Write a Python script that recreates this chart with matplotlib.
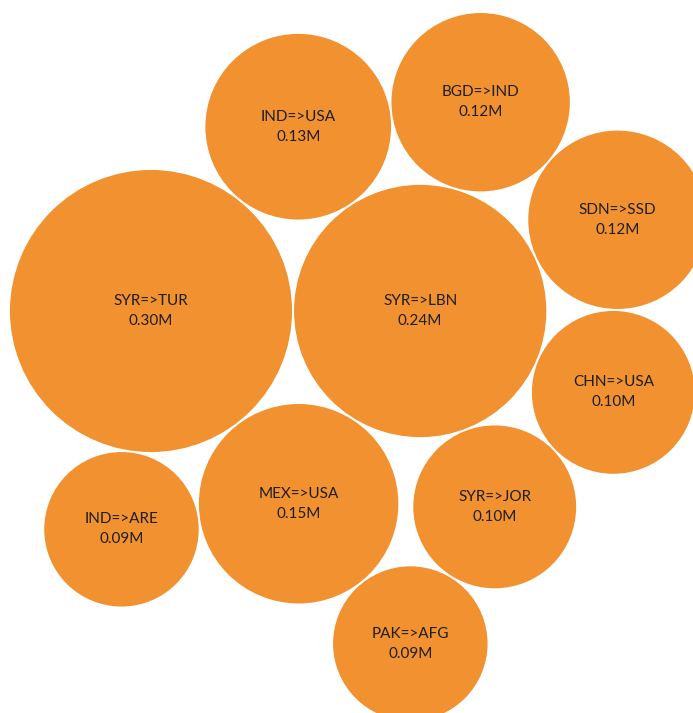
import math
import matplotlib
matplotlib.use("Agg")
import matplotlib.pyplot as plt
from matplotlib.patches import Circle

# migration corridors (millions of people)
routes = ["SYR=>TUR", "SYR=>LBN", "MEX=>USA", "IND=>USA", "BGD=>IND",
          "SDN=>SSD", "CHN=>USA", "SYR=>JOR", "PAK=>AFG", "IND=>ARE"]
values = [0.30, 0.24, 0.15, 0.13, 0.12, 0.12, 0.10, 0.10, 0.09, 0.09]

# each bubble after the first two sits against two earlier ones
# (on the left-hand side of the a -> b direction, screen coords)
anchors = [None, None, (0, 1), (1, 0), (1, 3), (1, 4), (1, 5), (1, 6), (2, 7), (0, 2)]

FILL = "#F29130"
TEXT = "#1e1e1e"
SCALE = 257.5     # px radius per sqrt(million)
PAD = 1.0         # px kept around each bubble
ORIGIN = (151, 311)


def tangent(a, b, r):
    """Centre of a circle of radius r touching circles a and b."""
    (x1, y1, r1), (x2, y2, r2) = a, b
    ux, uy = x2 - x1, y2 - y1
    d = math.hypot(ux, uy)
    ux, uy = ux / d, uy / d
    da, db = r1 + r, r2 + r
    along = (d * d + da * da - db * db) / (2 * d)
    h = math.sqrt(max(0.0, da * da - along * along))
    return x1 + along * ux - h * uy, y1 + along * uy + h * ux


radii = [SCALE * math.sqrt(v) for v in values]
pos = []
for i, r in enumerate(radii):
    rr = r + PAD
    if i == 0:
        x, y = ORIGIN
    elif i == 1:
        x, y = ORIGIN[0] + radii[0] + PAD + rr, ORIGIN[1]
    else:
        ia, ib = anchors[i]
        x, y = tangent(pos[ia], pos[ib], rr)
    pos.append((x, y, rr))

fig = plt.figure(figsize=(6.93, 7.13), dpi=100)
ax = fig.add_axes([0, 0, 1, 1])
ax.set_xlim(0, 693)
ax.set_ylim(713, 0)
ax.set_aspect("equal")
ax.axis("off")

for name, v, r, (cx, cy, _) in zip(routes, values, radii, pos):
    ax.add_patch(Circle((cx, cy), r, facecolor=FILL, edgecolor="none"))
    ax.text(cx, cy - 10, name, ha="center", va="center", fontsize=11,
            family="Lato", color=TEXT)
    ax.text(cx, cy + 10, "{:.2f}M".format(v), ha="center", va="center",
            fontsize=11, family="Lato", color=TEXT)

fig.savefig("out.png", dpi=100, facecolor="white")
